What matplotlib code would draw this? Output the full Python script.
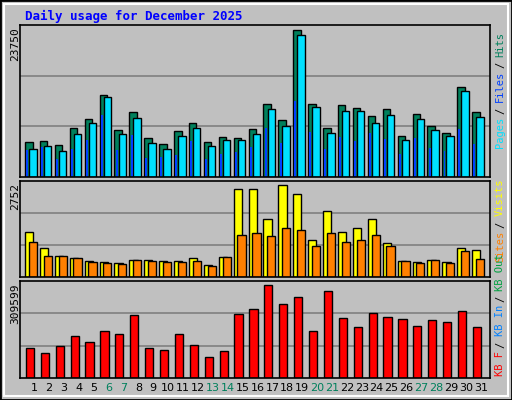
import matplotlib.pyplot as plt
from matplotlib.patches import Rectangle

days = list(range(1, 32))
hits = [5470, 5620, 5000, 7660, 9220, 12970, 7340, 10310, 6090, 5150, 7190, 8590, 5470, 6250,
        6090, 7500, 11560, 9060, 23130, 11560, 7660, 11410, 10940, 9690, 10780, 6410, 9990, 7970,
        6880, 14220, 10310]
files = [4380, 4840, 4060, 6720, 8590, 12660, 6720, 9380, 5310, 4380, 6410, 7660, 4840, 5780,
         5780, 6720, 10780, 7970, 22350, 11090, 6880, 10470, 10470, 8590, 9840, 5780, 9220, 7340,
         6410, 13590, 9530]
pages = [4220, 4690, 2810, 4380, 5780, 9840, 4220, 6560, 2970, 3130, 3440, 5630, 2810, 3590,
         3900, 4690, 7660, 5310, 12030, 7030, 4380, 6250, 5630, 6880, 5940, 3590, 6090, 4530,
         4060, 7500, 5160]
visits = [1290, 830, 610, 550, 460, 430, 400, 490, 490, 460, 460, 550, 350, 570,
          2550, 2550, 1690, 2670, 2410, 1060, 1920, 1290, 1410, 1690, 970, 460, 430, 490,
          430, 830, 770]
sites = [1000, 610, 610, 550, 430, 400, 370, 490, 460, 430, 430, 460, 320, 570,
         1230, 1260, 1180, 1430, 1350, 890, 1260, 1000, 1080, 1230, 890, 460, 400, 490,
         400, 740, 520]
kbytes = [95750, 79790, 102130, 134050, 114900, 150010, 140440, 204270, 95750, 89370, 140440,
          105320, 67020, 86180, 207470, 223420, 300020, 239380, 261720, 150010, 280860, 194690,
          165960, 210650, 197880, 191500, 169150, 188310, 181930, 217040, 165960]

weekends = {6, 7, 13, 14, 20, 21, 27, 28}

HITS_C, FILES_C, PAGES_C = "#00805C", "#0040FF", "#00E0FF"
VISITS_C, SITES_C, KB_C = "#FFFF00", "#FF8000", "#FF0000"
BG = "#C0C0C0"
MONO = "DejaVu Sans Mono"

W, H = 512, 400
fig = plt.figure(figsize=(W / 100, H / 100), dpi=100)
fig.patch.set_facecolor(BG)
fig.add_artist(Rectangle((0, 0), 1, 1, transform=fig.transFigure, fill=False,
                         edgecolor="black", linewidth=2))
fig.add_artist(Rectangle((4 / W, 4 / H), 1 - 8 / W, 1 - 8 / H, transform=fig.transFigure,
                         fill=False, edgecolor="white", linewidth=1.5))


def panel(top, bottom):
    ax = fig.add_axes([20 / W, 1 - bottom / H, 470 / W, (bottom - top) / H])
    ax.set_facecolor(BG)
    ax.set_xlim(0.06, 31.6)
    ax.set_xticks([])
    ax.set_yticks([])
    for s in ax.spines.values():
        s.set_color("black")
        s.set_linewidth(1.2)
    return ax


def grid(ax, vmax):
    ax.set_ylim(0, vmax)
    for f in (1 / 3, 2 / 3):
        ax.axhline(vmax * f, color="#808080", linewidth=1.2, zorder=0)


ek = dict(edgecolor="black", linewidth=1, align="edge")

ax1 = panel(25, 177)
grid(ax1, 23750 * 1.01)
ax1.bar([d - 0.6 for d in days], hits, 0.5, color=HITS_C, **ek)
ax1.bar([d - 0.33 for d in days], files, 0.5, color=PAGES_C, **ek)
ax1.bar([d - 0.52 for d in days], pages, 0.13, color=FILES_C, edgecolor="none", align="edge")

ax2 = panel(181, 277)
grid(ax2, 2752 * 1.01)
ax2.bar([d - 0.6 for d in days], visits, 0.55, color=VISITS_C, **ek)
ax2.bar([d - 0.35 for d in days], sites, 0.55, color=SITES_C, **ek)

ax3 = panel(281, 378)
grid(ax3, 309599 * 1.01)
ax3.bar([d - 0.55 for d in days], kbytes, 0.55, color=KB_C, **ek)

fig.text(25 / W, 1 - 16 / H, "Daily usage for December 2025", color="#0000FF",
         family=MONO, fontsize=9, fontweight="bold", va="center")

for label, y in (("23750", 27), ("2752", 183), ("309599", 283)):
    fig.text(15 / W, 1 - y / H, label, rotation=90, family=MONO, fontsize=8,
             ha="center", va="top")

for d in days:
    x = (20 + (d - 0.06) / 31.54 * 470) / W
    fig.text(x, 1 - 388 / H, str(d), family="DejaVu Sans", fontsize=8, ha="center",
             va="center", color="#00805C" if d in weekends else "black")


def side(parts, y_bottom):
    # stack rotated text pieces bottom to top, one space between pieces
    y = y_bottom
    for txt, col in parts:
        fig.text(500 / W, 1 - y / H, txt, rotation=90, family=MONO, fontsize=7.5,
                 color=col, ha="center", va="bottom")
        y -= 5.7 * (len(txt) + 1)


side([("Pages", PAGES_C), ("/", "black"), ("Files", FILES_C), ("/", "black"),
      ("Hits", HITS_C)], 148)
side([("Sites", SITES_C), ("/", "black"), ("Visits", VISITS_C)], 262)
side([("KB F", KB_C), ("/", "black"), ("KB In", "#0080FF"), ("/", "black"),
      ("KB Out", "#00A040")], 376)

fig.savefig("out.png", dpi=100, facecolor=BG)
